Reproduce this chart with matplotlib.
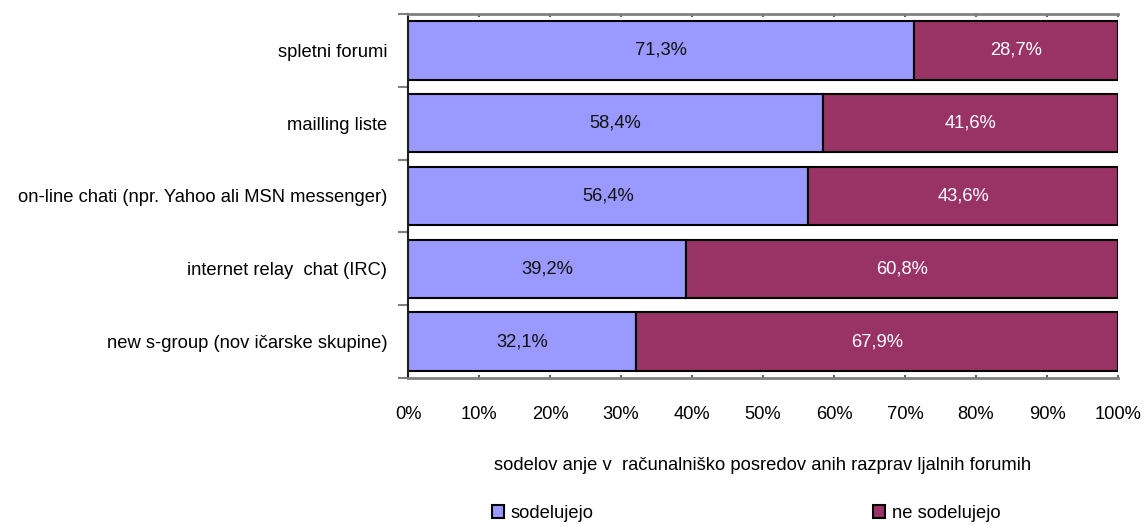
import matplotlib
matplotlib.use("Agg")
import matplotlib.pyplot as plt
from matplotlib.patches import Patch
import numpy as np

categories = ["spletni forumi", "mailling liste",
              "on-line chati (npr. Yahoo ali MSN messenger)",
              "internet relay  chat (IRC)",
              "new s-group (nov ičarske skupine)"]
sodelujejo = [71.3, 58.4, 56.4, 39.2, 32.1]
ne_sodelujejo = [28.7, 41.6, 43.6, 60.8, 67.9]
series_names = ["sodelujejo", "ne sodelujejo"]
xticks = [0, 10, 20, 30, 40, 50, 60, 70, 80, 90, 100]
xlabel = "sodelov anje v  računalniško posredov anih razprav ljalnih forumih"

plt.rcParams['font.family'] = ['Liberation Sans', 'DejaVu Sans']
FS = 13.2
blue = "#9999FF"
maroon = "#993366"

fig = plt.figure(figsize=(11.47, 5.25), dpi=100)
ax = fig.add_axes([408/1147, 1-378/525, (1118-408)/1147, (378-14)/525])

n = len(categories)
y = np.arange(n)[::-1]
ax.barh(y, sodelujejo, height=0.8, color=blue, edgecolor="black", linewidth=1.5)
ax.barh(y, ne_sodelujejo, left=sodelujejo, height=0.8, color=maroon,
        edgecolor="black", linewidth=1.5)

for yi, a, b in zip(y, sodelujejo, ne_sodelujejo):
    ax.text(a/2, yi, f"{a:.1f}%".replace(".", ","), ha="center", va="center",
            fontsize=FS, color="#111111")
    ax.text(a + b/2, yi, f"{b:.1f}%".replace(".", ","), ha="center", va="center",
            fontsize=FS, color="white")

ax.set_xlim(0, 100)
ax.set_ylim(-0.5, n-0.5)
ax.set_xticks(xticks)
ax.set_xticklabels([f"{t}%" for t in xticks], fontsize=FS)
ax.set_yticks(y)
ax.set_yticklabels(categories, fontsize=FS)
ax.set_yticks(np.arange(n+1) - 0.5, minor=True)
ax.tick_params(axis='y', which='major', length=0, pad=15)
ax.tick_params(axis='y', which='minor', length=7, color="#808080", width=1.5, direction='out')
ax.tick_params(axis='x', which='major', length=6, color="#404040", width=1.2, direction='out', pad=20, bottom=True)
ax.tick_params(axis='x', which='major', top=True, direction='in', length=2)

for s in ["top", "bottom"]:
    ax.spines[s].set_color("#808080")
    ax.spines[s].set_linewidth(2)
ax.spines["left"].set_color("#202020")
ax.spines["left"].set_linewidth(1.5)
ax.spines["right"].set_visible(False)

fig.text(763/1147, 1-466/525, xlabel, ha="center", va="center", fontsize=FS)

handles = [Patch(facecolor=blue, edgecolor="black", linewidth=1.5),
           Patch(facecolor=maroon, edgecolor="black", linewidth=1.5)]
fig.legend(handles, series_names, loc="center", bbox_to_anchor=(746/1147, 1-513/525),
           ncol=2, frameon=False, fontsize=FS, handlelength=0.7, handleheight=0.7,
           handletextpad=0.35, columnspacing=15.2)

fig.savefig("out.png", dpi=100)
